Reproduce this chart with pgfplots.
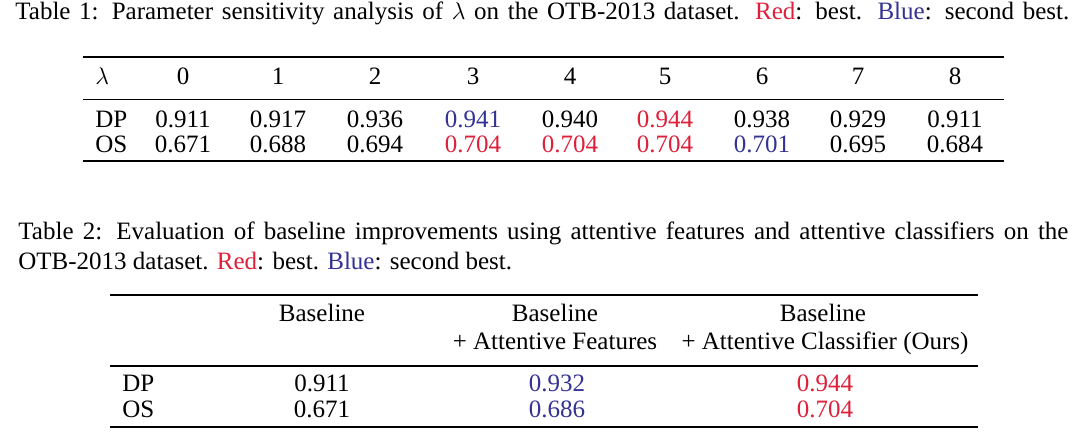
\documentclass[border=0pt]{standalone}
\usepackage{fontspec}
\setmainfont{Liberation Serif}
\usepackage{xcolor}
\usepackage{pgfplots}
\pgfplotsset{compat=1.18}
\definecolor{bestred}{RGB}{222,32,58}
\definecolor{secblue}{RGB}{52,50,148}
\newcommand\fsz{\fontsize{12.5}{15}\selectfont}
\newcommand\capone{\makebox[527pt][s]{Table 1: Parameter sensitivity analysis of $\lambda$ on the OTB-2013 dataset. \textcolor{bestred}{Red}: best. \textcolor{secblue}{Blue}: second best.}}
\newcommand\captwoa{\makebox[525pt][s]{Table 2: Evaluation of baseline improvements using attentive features and attentive classifiers on the}}
\newcommand\captwob{OTB-2013 dataset. \textcolor{bestred}{Red}: best. \textcolor{secblue}{Blue}: second best.}
\newcommand\featshead{+ Attentive Features}
\newcommand\ourshead{+ Attentive Classifier (Ours)}
\begin{document}
\begin{tikzpicture}
\begin{axis}[
  scale only axis, width=540pt, height=218.5pt,
  xmin=0, xmax=1080, ymin=0, ymax=437, y dir=reverse,
  axis line style={draw=none}, xtick=\empty, ytick=\empty,
  clip=false, enlargelimits=false,
  txt/.style={only marks, mark=*, mark size=0pt, mark options={draw=none, fill=none},
    point meta=explicit symbolic, nodes near coords={\pgfplotspointmeta},
    nodes near coords align={center},
    every node near coord/.append style={anchor=base, inner sep=0pt, font=\fsz, text=#1}},
  txt/.default=black,
  txtl/.style={only marks, mark=*, mark size=0pt, mark options={draw=none, fill=none},
    point meta=explicit symbolic, nodes near coords={\pgfplotspointmeta},
    nodes near coords align={center},
    every node near coord/.append style={anchor=base west, inner sep=0pt, font=\fsz, text=black}},
]
% captions
\addplot[txtl] coordinates {(15,20) [\capone] (18,240) [\captwoa] (18,270) [\captwob]};
% table 1 rules
\addplot[black, line width=1pt] coordinates {(83,57) (1004,57)};
\addplot[black, line width=0.6pt] coordinates {(83,99.5) (1004,99.5)};
\addplot[black, line width=1pt] coordinates {(83,161) (1004,161)};
% table 1 header and row labels
\addplot[txtl] coordinates {(95,85) [$\lambda$] (95,128) [DP] (95,153) [OS]};
\addplot[txt] coordinates {(183,85) [0] (278,85) [1] (375,85) [2] (473,85) [3] (570,85) [4] (665,85) [5] (762,85) [6] (858,85) [7] (955,85) [8]};
% table 1 DP
\addplot[txt] coordinates {(183,128) [0.911] (278,128) [0.917] (375,128) [0.936] (570,128) [0.940] (762,128) [0.938] (858,128) [0.929] (955,128) [0.911]};
\addplot[txt=secblue] coordinates {(473,128) [0.941]};
\addplot[txt=bestred] coordinates {(665,128) [0.944]};
% table 1 OS
\addplot[txt] coordinates {(183,153) [0.671] (278,153) [0.688] (375,153) [0.694] (858,153) [0.695] (955,153) [0.684]};
\addplot[txt=bestred] coordinates {(473,153) [0.704] (570,153) [0.704] (665,153) [0.704]};
\addplot[txt=secblue] coordinates {(762,153) [0.701]};
% table 2 rules
\addplot[black, line width=1pt] coordinates {(110,295.5) (978,295.5)};
\addplot[black, line width=0.6pt] coordinates {(110,366) (978,366)};
\addplot[black, line width=1pt] coordinates {(110,427) (978,427)};
% table 2 header
\addplot[txt] coordinates {(322,322) [Baseline] (555,322) [Baseline] (823,322) [Baseline] (555,350) [\featshead] (825,350) [\ourshead]};
\addplot[txtl] coordinates {(122,392) [DP] (122,418) [OS]};
\addplot[txt] coordinates {(322,392) [0.911] (322,418) [0.671]};
\addplot[txt=secblue] coordinates {(557,392) [0.932] (557,418) [0.686]};
\addplot[txt=bestred] coordinates {(825,392) [0.944] (825,418) [0.704]};
\end{axis}
\end{tikzpicture}
\end{document}
